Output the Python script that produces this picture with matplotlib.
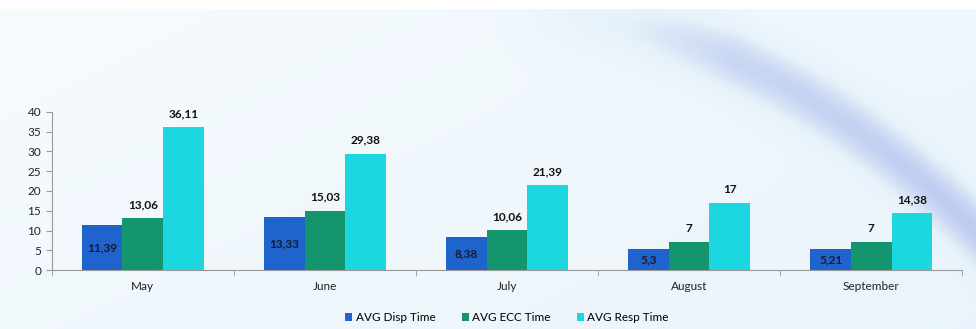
import numpy as np
import matplotlib.pyplot as plt
from matplotlib.colors import LinearSegmentedColormap

# Data
months = ['May', 'June', 'July', 'August', 'September']
disp_time = [11.39, 13.33, 8.38, 5.3, 5.21]
ecc_time = [13.06, 15.03, 10.06, 7, 7]
resp_time = [36.11, 29.38, 21.39, 17, 14.38]
series_names = ['AVG Disp Time', 'AVG ECC Time', 'AVG Resp Time']
colors = ['#1f63cc', '#14956e', '#1cd6e0']

plt.rcParams['font.family'] = ['Lato', 'DejaVu Sans']

fig = plt.figure(figsize=(9.76, 3.29), dpi=100)

# soft blue background with a faint swoosh
bg = fig.add_axes([0, 0, 1, 1], zorder=-10)
yy, xx = np.mgrid[0:1:200j, 0:1:600j]
curve = 0.05 + 3.2 * (xx - 0.55) ** 2
band = np.exp(-((yy - curve) ** 2) / 0.012) * np.clip((xx - 0.5) * 4, 0, 1)
shade = 0.15 * xx + 0.1 * yy + 0.45 * band
cmap = LinearSegmentedColormap.from_list('bgblue', ['#f6fbfe', '#e6f1fa', '#b9c9ef'])
bg.imshow(shade, cmap=cmap, vmin=0, vmax=0.7, aspect='auto',
          extent=[0, 1, 0, 1], origin='upper')
bg.axhspan(0.975, 1, color='white')
bg.set_xlim(0, 1)
bg.set_ylim(0, 1)
bg.axis('off')

ax = fig.add_axes([0.053, 0.179, 0.933, 0.481])
ax.patch.set_alpha(0)

x = np.arange(len(months))
w = 0.223
for i, (vals, name, c) in enumerate(zip([disp_time, ecc_time, resp_time], series_names, colors)):
    bars = ax.bar(x + (i - 1) * w, vals, w, color=c, label=name)
    labels = [f'{v:g}'.replace('.', ',') for v in vals]
    if i == 0:
        ax.bar_label(bars, labels=labels, label_type='center', fontsize=8.5,
                     fontweight='bold', color='#1a1a2e')
    else:
        ax.bar_label(bars, labels=labels, padding=6, fontsize=8.5,
                     fontweight='bold', color='#111111')

ax.set_xlim(-0.5, len(months) - 0.5)
ax.set_ylim(0, 40)
ax.set_yticks(range(0, 41, 5))
ax.set_xticks(x)
ax.set_xticklabels(months)
ax.set_xticks(np.arange(-0.5, len(months)), minor=True)
ax.tick_params(axis='x', which='major', length=0, pad=8, labelsize=8.5, colors='#222222')
ax.tick_params(axis='x', which='minor', length=4, color='#999999')
ax.tick_params(axis='y', length=4, color='#999999', labelsize=8.5, labelcolor='#222222')
for s in ['top', 'right']:
    ax.spines[s].set_visible(False)
for s in ['left', 'bottom']:
    ax.spines[s].set_color('#999999')

ax.legend(loc='upper center', bbox_to_anchor=(0.5, -0.2), ncol=3, frameon=False,
          fontsize=8.5, handlelength=0.6, handleheight=0.6, handletextpad=0.3,
          columnspacing=2.2)

fig.savefig('out.png', dpi=100)
